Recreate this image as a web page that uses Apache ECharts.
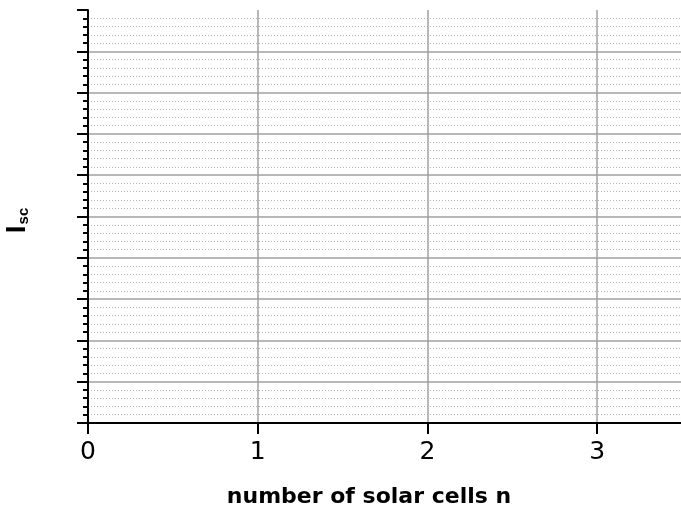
<!DOCTYPE html>
<html>
<head>
<meta charset="utf-8">
<script src="https://cdn.jsdelivr.net/npm/echarts@6/dist/echarts.min.js"></script>
<style>html,body{margin:0;padding:0;background:#fff}#c{width:681px;height:513px}</style>
</head>
<body>
<div id="c"></div>
<script>
var xTicks = [0, 1, 2, 3];
var xRange = [0, 3.5];
var yRange = [0, 10];
var xName = 'number of solar cells n';
var yNameMain = 'I';
var yNameSub = 'sc';

var chart = echarts.init(document.getElementById('c'), null, {renderer: 'canvas'});
chart.setOption({
  animation: false,
  backgroundColor: '#ffffff',
  grid: {left: 88, top: 10, right: -1, bottom: 90, containLabel: false, outerBoundsMode: 'none'},
  xAxis: {
    type: 'value', min: xRange[0], max: xRange[1], interval: 1,
    name: xName, nameLocation: 'middle', nameGap: 63,
    nameTextStyle: {fontFamily: 'DejaVu Sans', fontSize: 22, fontWeight: 'bold', color: '#000', padding: [0, 32, 0, 0]},
    axisLine: {show: true, onZero: false, lineStyle: {color: '#000', width: 2}},
    axisTick: {show: true, length: 11, lineStyle: {color: '#000', width: 2}},
    axisLabel: {
      fontFamily: 'DejaVu Sans', fontSize: 25, color: '#000', margin: 17, showMaxLabel: false,
      formatter: function (v) { return xTicks.indexOf(v) >= 0 ? String(v) : ''; }
    },
    splitLine: {show: true, showMinLine: false, showMaxLine: false, lineStyle: {color: '#a0a0a0', width: 1.5}}
  },
  yAxis: {
    type: 'value', min: yRange[0], max: yRange[1], interval: 1,
    name: '{a|' + yNameMain + '}{b|' + yNameSub + '}', nameLocation: 'middle', nameGap: 57, nameRotate: 90,
    nameTextStyle: {
      padding: [0, 8, 0, 0],
      rich: {
        a: {fontFamily: 'Liberation Sans', fontSize: 28, fontWeight: 'bold', color: '#000'},
        b: {fontFamily: 'Liberation Sans', fontSize: 15, fontWeight: 'bold', color: '#000', padding: [10, 0, 0, 1], verticalAlign: 'bottom'}
      }
    },
    axisLine: {show: true, onZero: false, lineStyle: {color: '#000', width: 2}},
    axisTick: {show: true, length: 11, lineStyle: {color: '#000', width: 2}},
    minorTick: {show: true, splitNumber: 5, length: 5, lineStyle: {color: '#000', width: 2}},
    axisLabel: {show: false},
    splitLine: {show: true, showMinLine: false, showMaxLine: false, lineStyle: {color: '#a0a0a0', width: 1.5}},
    minorSplitLine: {show: true, lineStyle: {color: '#b4b4b4', width: 1, type: [1, 2]}}
  },
  series: [{type: 'line', data: []}]
});
</script>
</body>
</html>
